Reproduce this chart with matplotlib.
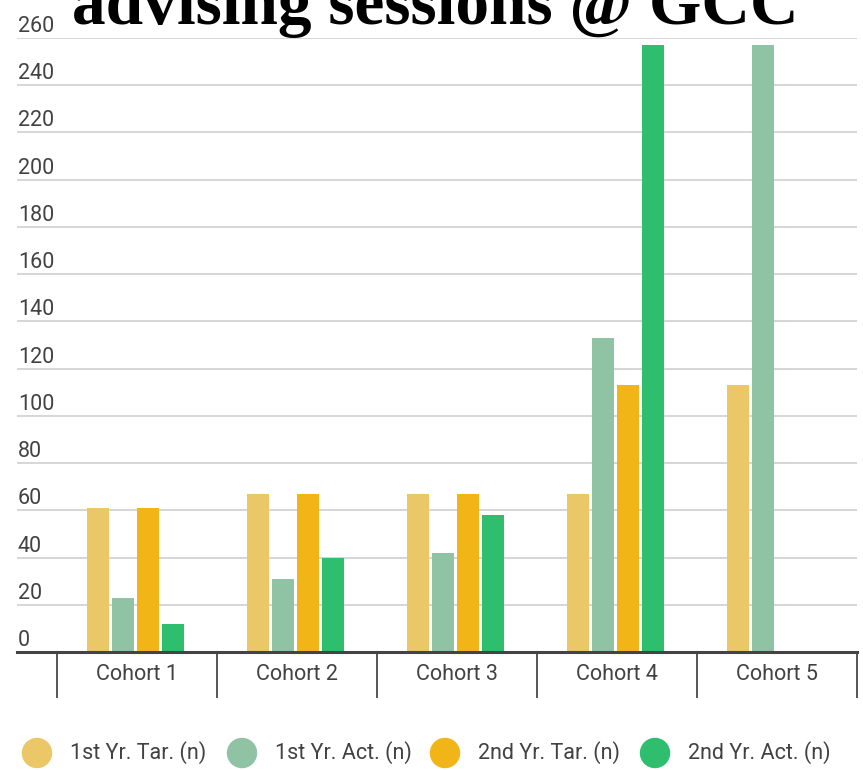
import numpy as np
import matplotlib.pyplot as plt
from matplotlib.patches import Ellipse
from matplotlib.transforms import blended_transform_factory, offset_copy

# advising sessions per cohort, target vs actual
cohorts = ['Cohort 1', 'Cohort 2', 'Cohort 3', 'Cohort 4', 'Cohort 5']
series_names = ['1st Yr. Tar. (n)', '1st Yr. Act. (n)', '2nd Yr. Tar. (n)', '2nd Yr. Act. (n)']
first_yr_target = [61, 67, 67, 67, 113]
first_yr_actual = [23, 31, 42, 133, 257]
second_yr_target = [61, 67, 67, 113, np.nan]
second_yr_actual = [12, 40, 58, 257, np.nan]
y_ticks = list(range(0, 261, 20))

colors = ['#ecc767', '#8fc3a3', '#f2b518', '#2ebe6e']
text_color = '#424242'

plt.rcParams['font.family'] = ['Roboto', 'DejaVu Sans']

W, H = 863, 770
fig = plt.figure(figsize=(W / 100, H / 100), dpi=100)
ax = fig.add_axes([17 / W, (H - 652) / H, 840 / W, 614 / H])

x = np.arange(len(cohorts))
step = 25 / 160
width = 22 / 160
all_series = [first_yr_target, first_yr_actual, second_yr_target, second_yr_actual]
for i, (vals, c) in enumerate(zip(all_series, colors)):
    ax.bar(x + (i - 1.5) * step - 0.008, vals, width, color=c, zorder=3)

ax.set_xlim(-0.75, len(cohorts) - 0.5)
ax.set_ylim(0, 260)

# horizontal gridlines, labels sitting above each line
ax.set_yticks(y_ticks)
ax.yaxis.grid(True, color='#cfcfcf', linewidth=1.2, zorder=0)
ax.tick_params(axis='y', length=0, labelleft=False)
trans = offset_copy(blended_transform_factory(ax.transAxes, ax.transData),
                    fig=fig, x=0, y=6, units='dots')
for v in y_ticks:
    ax.text(0.001, v, str(v), transform=trans, ha='left', va='baseline',
            fontsize=15.5, color=text_color)

for s in ['top', 'right', 'left']:
    ax.spines[s].set_visible(False)
ax.spines['bottom'].set_color('#444444')
ax.spines['bottom'].set_linewidth(2.2)
ax.spines['bottom'].set_zorder(4)

# category separators hanging below the baseline
ax.set_xticks(np.arange(len(cohorts) + 1) - 0.5)
ax.set_xticklabels([])
ax.tick_params(axis='x', length=33, width=1.4, color='#555555', direction='out')
for xi, name in zip(x, cohorts):
    ax.annotate(name, xy=(xi, 0), xycoords='data', xytext=(0, -16),
                textcoords='offset points', ha='center', va='center',
                fontsize=15.5, color=text_color, annotation_clip=False)

# legend row with round markers
legend_y = (H - 753) / H
marker_x = [37, 242, 445, 655]
for mx, name, c in zip(marker_x, series_names, colors):
    fig.add_artist(Ellipse((mx / W, legend_y), 29 / W, 29 / H, color=c,
                           transform=fig.transFigure))
    fig.text((mx + 33) / W, legend_y, name, ha='left', va='center',
             fontsize=15.5, color=text_color)

# title, second line of a larger heading
fig.text(72 / W, (H - 24) / H, 'advising sessions @ GCC', ha='left',
         va='baseline', fontsize=48.5, fontweight='bold', color='black',
         family=['Liberation Serif', 'DejaVu Serif'])

fig.savefig('out.png', dpi=100)
